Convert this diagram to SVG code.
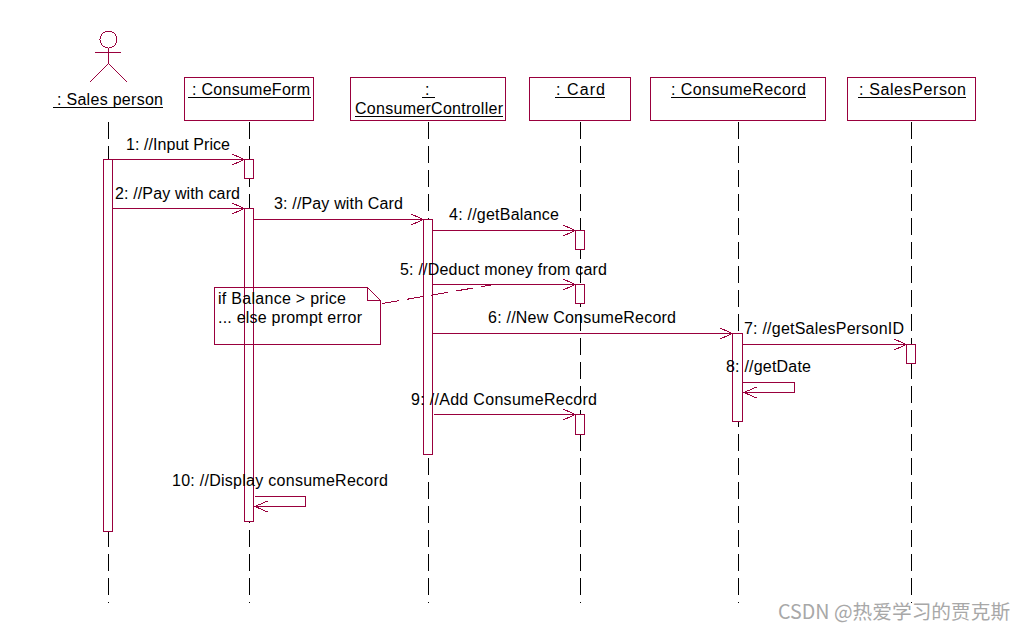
<svg xmlns="http://www.w3.org/2000/svg" width="1024" height="631" viewBox="0 0 1024 631" shape-rendering="crispEdges">
<style>
.s{fill:none;stroke:#99003d;stroke-width:1}
.b{fill:#fff;stroke:#99003d;stroke-width:1}
.ll{stroke:#000;stroke-width:1;stroke-dasharray:17 7;fill:none}
.u{stroke:#000;stroke-width:1}
text{font-family:"Liberation Sans",Arial,sans-serif;font-size:16px;fill:#000;lengthAdjust:spacing}
.wm{font-family:"Noto Sans CJK SC","Liberation Sans",sans-serif;font-size:19.700px;fill:#a8a8a8}
</style>
<defs>
<marker id="a" markerUnits="userSpaceOnUse" markerWidth="14" markerHeight="14" refX="12.5" refY="7" orient="auto"><path d="M0 1.500L12.500 7L0 12.500" fill="none" stroke="#99003d"/></marker>
</defs>
<rect width="1024" height="631" fill="#fff"/>
<g id="lifelines">
<path class="ll" d="M108.500 122V603"/>
<path class="ll" d="M249.500 122V603"/>
<path class="ll" d="M428.500 122V603"/>
<path class="ll" d="M580.500 122V603"/>
<path class="ll" d="M738.500 122V603"/>
<path class="ll" d="M911.500 122V603"/>
</g>
<g id="sales-person">
<circle class="s" cx="108.500" cy="39.500" r="8.500"/>
<path class="s" d="M95 52.500H121M108.500 48V63.500M90 82L108.500 63.500L127 82"/>
<text x="57" y="105" textLength="106">: Sales person</text>
<path class="u" d="M53 107.500H163"/>
<rect class="b" x="103.500" y="159.500" width="9" height="372"/>
</g>
<g id="consume-form">
<rect class="s" x="184.500" y="77.500" width="129" height="43"/>
<text x="192" y="95" textLength="118">: ConsumeForm</text>
<path class="u" d="M188 97.500H311"/>
<rect class="b" x="244.500" y="159.500" width="9" height="19"/>
<rect class="b" x="244.500" y="208.500" width="9" height="313"/>
</g>
<g id="consumer-controller">
<rect class="s" x="350.500" y="77.500" width="155" height="43"/>
<text x="425" y="95">:</text>
<path class="u" d="M422 97.500H435"/>
<text x="355" y="114" textLength="148">ConsumerController</text>
<path class="u" d="M355 116.500H503"/>
<rect class="b" x="423.500" y="219.500" width="9" height="235"/>
</g>
<g id="card">
<rect class="s" x="529.500" y="77.500" width="101" height="43"/>
<text x="556" y="95" textLength="49">: Card</text>
<path class="u" d="M555 97.500H605"/>
<rect class="b" x="575.500" y="230.500" width="9" height="19"/>
<rect class="b" x="575.500" y="284.500" width="9" height="19"/>
<rect class="b" x="575.500" y="414.500" width="9" height="20"/>
</g>
<g id="consume-record">
<rect class="s" x="650.500" y="77.500" width="175" height="43"/>
<text x="671" y="95" textLength="135">: ConsumeRecord</text>
<path class="u" d="M671 97.500H806"/>
<rect class="b" x="732.500" y="333.500" width="10" height="88"/>
</g>
<g id="sales-person-obj">
<rect class="s" x="847.500" y="77.500" width="128" height="43"/>
<text x="859" y="95" textLength="107">: SalesPerson</text>
<path class="u" d="M858 97.500H966"/>
<rect class="b" x="906.500" y="344.500" width="9" height="19"/>
</g>
<g id="note">
<path class="s" d="M214.500 287.500H367.500L380.500 300.500V344.500H214.500ZM367.500 287.500V300.500H380.500"/>
<text x="218" y="304" textLength="128">if Balance &gt; price</text>
<text x="218" y="323" textLength="144">... else prompt error</text>
</g>
<g id="connectors">
<path class="s" d="M382 303.500L497 284" stroke-dasharray="17 8"/>
<path class="s" marker-end="url(#a)" d="M112.500 159.500H244.500"/>
<path class="s" marker-end="url(#a)" d="M112.500 208.500H244.500"/>
<path class="s" marker-end="url(#a)" d="M253.500 219.500H423.500"/>
<path class="s" marker-end="url(#a)" d="M432.500 230.500H575.500"/>
<path class="s" marker-end="url(#a)" d="M432.500 284.500H575.500"/>
<path class="s" marker-end="url(#a)" d="M432.500 333.500H732.500"/>
<path class="s" marker-end="url(#a)" d="M742.500 344.500H906.500"/>
<path class="s" marker-end="url(#a)" d="M743 382.500H794.500V392.500H744"/>
<path class="s" marker-end="url(#a)" d="M434 414.500H575.500"/>
<path class="s" marker-end="url(#a)" d="M255 496.500H305.500V506.500H255"/>
</g>
<g id="labels">
<text x="126" y="150" textLength="104">1: //Input Price</text>
<text x="115" y="199" textLength="125">2: //Pay with card</text>
<text x="274" y="209" textLength="129">3: //Pay with Card</text>
<text x="449" y="220" textLength="110">4: //getBalance</text>
<text x="400" y="275" textLength="207">5: //Deduct money from card</text>
<text x="488" y="323" textLength="188">6: //New ConsumeRecord</text>
<text x="744" y="334" textLength="160">7: //getSalesPersonID</text>
<text x="726" y="372" textLength="85">8: //getDate</text>
<text x="411" y="405" textLength="186">9: //Add ConsumeRecord</text>
<text x="172" y="486" textLength="216">10: //Display consumeRecord</text>
</g>
<text class="wm" x="778" y="619">CSDN @热爱学习的贾克斯</text>
</svg>
